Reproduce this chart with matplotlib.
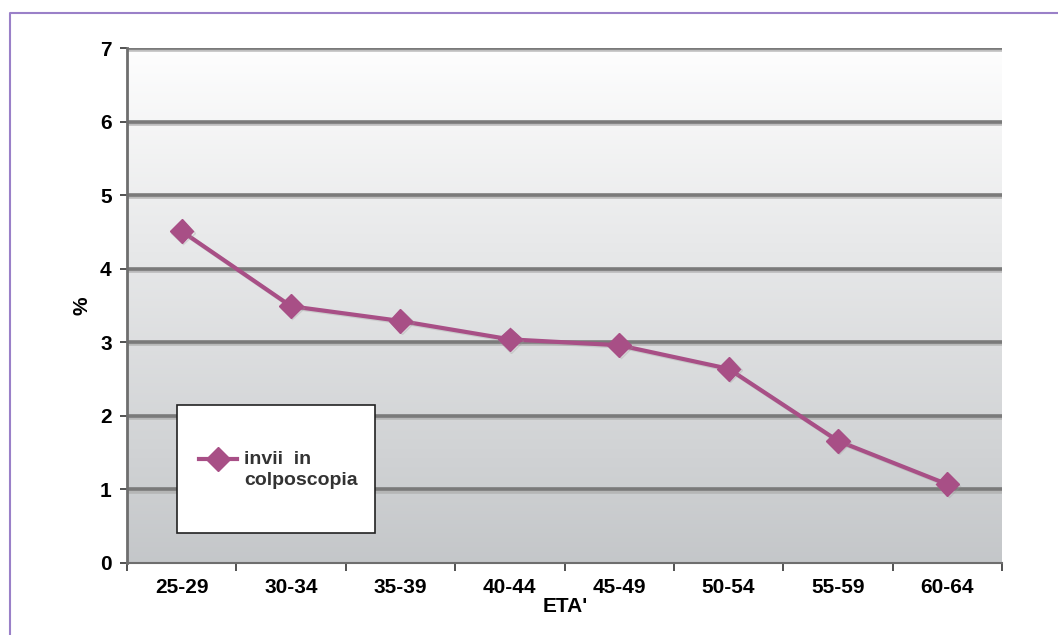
import numpy as np
import matplotlib
matplotlib.use("Agg")
import matplotlib.pyplot as plt
from matplotlib.patches import Rectangle
from matplotlib.lines import Line2D
import matplotlib.patheffects as pe

# Data
age_groups = ["25-29", "30-34", "35-39", "40-44", "45-49", "50-54", "55-59", "60-64"]
colposcopy_pct = [4.51, 3.49, 3.29, 3.04, 2.96, 2.64, 1.66, 1.07]
y_ticks = [0, 1, 2, 3, 4, 5, 6, 7]
series_label = "invii  in\ncolposcopia"

W, H = 1058, 635
fig = plt.figure(figsize=(W / 100, H / 100), dpi=100)
plt.rcParams["font.family"] = ["Liberation Sans", "DejaVu Sans"]

def fx(px):
    return px / W

def fy(py):
    return 1 - py / H

# Plot area
left, right, top, bottom = 127, 1002, 48, 563
ax = fig.add_axes([fx(left), fy(bottom), fx(right - left), (bottom - top) / H])

n = len(age_groups)
x = np.arange(n)

# Vertical gradient background: light at top, grey at bottom
grad = np.linspace(0, 1, 256).reshape(-1, 1)
top_col = np.array([0.995, 0.995, 0.995])
bot_col = np.array([0.77, 0.78, 0.79])
img = top_col + (bot_col - top_col) * grad
ax.imshow(img[:, None, :].repeat(2, axis=1), extent=(-0.5, n - 0.5, 0, 7),
          origin="upper", aspect="auto", zorder=0, interpolation="bilinear")
ax.set_xlim(-0.5, n - 0.5)
ax.set_ylim(0, 7)

# Grid lines with a soft shadow
for yv in y_ticks[1:]:
    ax.axhline(yv, color="#7a7a7a", lw=2.6, zorder=1,
               path_effects=[pe.SimpleLineShadow(offset=(0, -1.5), shadow_color="#b0b0b0", alpha=0.8),
                             pe.Normal()])

# Series
ax.plot(x, colposcopy_pct, color="#a84f86", lw=3, marker="D", markersize=12,
        markeredgecolor="#a84f86", zorder=3,
        path_effects=[pe.SimpleLineShadow(offset=(1, -1), shadow_color="#999999", alpha=0.3),
                      pe.Normal()])

# Axes styling
for s in ["top", "right"]:
    ax.spines[s].set_visible(False)
ax.spines["left"].set_color("#6e6e6e")
ax.spines["left"].set_linewidth(2)
ax.spines["bottom"].set_color("#6e6e6e")
ax.spines["bottom"].set_linewidth(1.5)

ax.set_yticks(y_ticks)
ax.set_yticklabels([str(v) for v in y_ticks], fontsize=15, fontweight="bold")
ax.set_xticks(np.arange(n + 1) - 0.5, minor=False)
ax.set_xticklabels([])
ax.set_xticks(x, minor=True)
ax.set_xticklabels(age_groups, minor=True, fontsize=15, fontweight="bold")
ax.tick_params(axis="x", which="major", length=6, width=1.2, color="#333333", direction="out")
ax.tick_params(axis="x", which="minor", length=0, pad=11)
ax.tick_params(axis="y", length=5, width=1.2, color="#333333", direction="out", pad=6)

ax.set_ylabel("%", fontsize=15, fontweight="bold", labelpad=6)
fig.text(fx(565), fy(606), "ETA'", ha="center", va="center", fontsize=15, fontweight="bold")

# Legend box
fig.patches.append(Rectangle((fx(177), fy(533)), fx(375 - 177), (533 - 405) / H,
                             transform=fig.transFigure, facecolor="white",
                             edgecolor="#222222", lw=1.2, zorder=5))
fig.lines.append(Line2D([fx(199), fx(237)], [fy(459), fy(459)], transform=fig.transFigure,
                        color="#a84f86", lw=3, zorder=6))
fig.lines.append(Line2D([fx(218)], [fy(459)], transform=fig.transFigure,
                        color="#a84f86", marker="D", markersize=12, zorder=6))
fig.text(fx(244), fy(470), series_label, ha="left", va="center", fontsize=14,
         fontweight="bold", color="#333333", linespacing=1.25, zorder=7)

# Outer frame
fig.lines.append(Line2D([fx(10), fx(10), fx(W)], [0, fy(13), fy(13)], transform=fig.transFigure,
                        color="#9a80c8", lw=1.5))

fig.savefig("out.png", dpi=100)
